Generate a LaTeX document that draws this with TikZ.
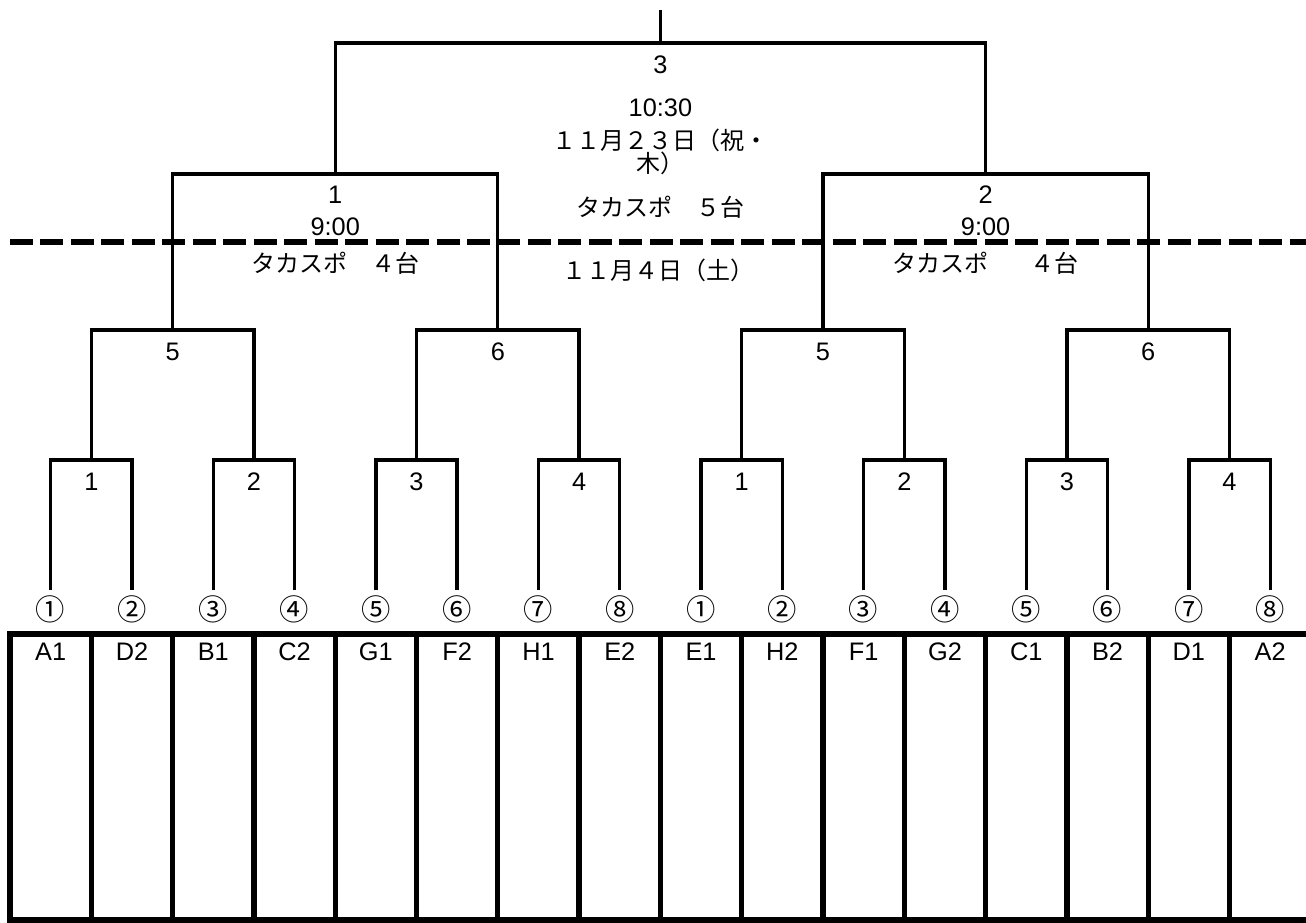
\documentclass[tikz,border=0pt]{standalone}
\usepackage{fontspec}
\setmainfont{Liberation Sans}
\newfontfamily\jpfont{Noto Sans CJK JP}
\usetikzlibrary{positioning,calc}

\begin{document}
\begin{tikzpicture}[
    x=0.75pt, y=-0.75pt,
    bracket/.style={draw=black, line width=2.5pt},
    tableline/.style={draw=black, line width=4pt},
    dayline/.style={draw=black, line width=4.5pt, dash pattern=on 17.25pt off 5.6pt},
    lbl/.style={font=\fontsize{19}{22}\selectfont, inner sep=0pt, anchor=center},
    jplbl/.style={font=\jpfont\fontsize{18}{21}\selectfont, inner sep=0pt, anchor=center},
    seed/.style={font=\jpfont\fontsize{22}{24}\selectfont, inner sep=0pt, anchor=center},
    team/.style={lbl}
]
\useasboundingbox (0,0) rectangle (1306,922);

% Leaves (16 entries, one per column)
\foreach \i in {1,...,16} {
  \coordinate (L\i) at ({10+81.3*(\i-0.5)}, 590);
}

% Round 1 (matches 1-4 on each side)
\foreach \k/\lab in {1/1,2/2,3/3,4/4,5/1,6/2,7/3,8/4} {
  \pgfmathtruncatemacro{\a}{2*\k-1}
  \pgfmathtruncatemacro{\b}{2*\k}
  \coordinate (A\k) at ($(L\a)!0.5!(L\b)+(0,-130)$);
  \draw[bracket] (L\a) |- (A\k) -| (L\b);
  \node[lbl] (ra\k) at ($(A\k)+(0,22)$) {\lab};
}

% Round 2 (matches 5-6 on each side)
\foreach \k/\lab in {1/5,2/6,3/5,4/6} {
  \pgfmathtruncatemacro{\a}{2*\k-1}
  \pgfmathtruncatemacro{\b}{2*\k}
  \coordinate (B\k) at ($(A\a)!0.5!(A\b)+(0,-130)$);
  \draw[bracket] (A\a) |- (B\k) -| (A\b);
  \node[lbl] (rb\k) at ($(B\k)+(0,22)$) {\lab};
}

% Semifinals
\coordinate (C1) at ($(B1)!0.5!(B2)+(0,-156)$);
\coordinate (C2) at ($(B3)!0.5!(B4)+(0,-156)$);
\draw[bracket] (B1) |- (C1) -| (B2);
\draw[bracket] (B3) |- (C2) -| (B4);
\node[lbl] (sf1no) at ($(C1)+(0,21)$) {1};
\node[lbl] (sf1time) at ($(C1)+(0,53)$) {9:00};
\node[jplbl] (sf1site) at ($(C1)+(0,89)$) {タカスポ　４台};
\node[lbl] (sf2no) at ($(C2)+(0,21)$) {2};
\node[lbl] (sf2time) at ($(C2)+(0,53)$) {9:00};
\node[jplbl] (sf2site) at ($(C2)+(0,89)$) {タカスポ　\hspace{13pt}４台};

% Final
\coordinate (F) at ($(C1)!0.5!(C2)+(0,-131)$);
\coordinate (T) at ($(F)+(0,-33)$);
\draw[bracket] (C1) |- (F) -| (C2);
\draw[bracket] (F) -- (T);
\node[lbl] (fno) at ($(F)+(0,22)$) {3};
\node[lbl] (ftime) at ($(F)+(0,65)$) {10:30};
\node[jplbl] (fdate1) at ($(F)+(0,97)$) {１１月２３日（祝・};
\node[jplbl] (fdate2) at ($(F)+(0,120)$) {木）};
\node[jplbl] (fsite) at ($(F)+(0,164)$) {タカスポ　５台};

% Day boundary
\coordinate (D0) at (10,242);
\coordinate (D1) at (1306,242);
\draw[dayline] (D0) -- (D1);
\node[jplbl] (day1) at (658,270) {１１月４日（土）};

% Entry table
\draw[tableline] (1306,634) -| (10,920) -- (1306,920);
\foreach \j in {1,...,15} {
  \draw[tableline] ({10+81.3*\j},634) -- ({10+81.3*\j},920);
}
\foreach \i/\s/\t in {1/①/A1,2/②/D2,3/③/B1,4/④/C2,5/⑤/G1,6/⑥/F2,7/⑦/H1,8/⑧/E2,
                      9/①/E1,10/②/H2,11/③/F1,12/④/G2,13/⑤/C1,14/⑥/B2,15/⑦/D1,16/⑧/A2} {
  \node[seed] (s\i) at ($(L\i)+(0,19)$) {\s};
  \node[team] (t\i) at ($(L\i)+(0,62)$) {\t};
}

\end{tikzpicture}
\end{document}
